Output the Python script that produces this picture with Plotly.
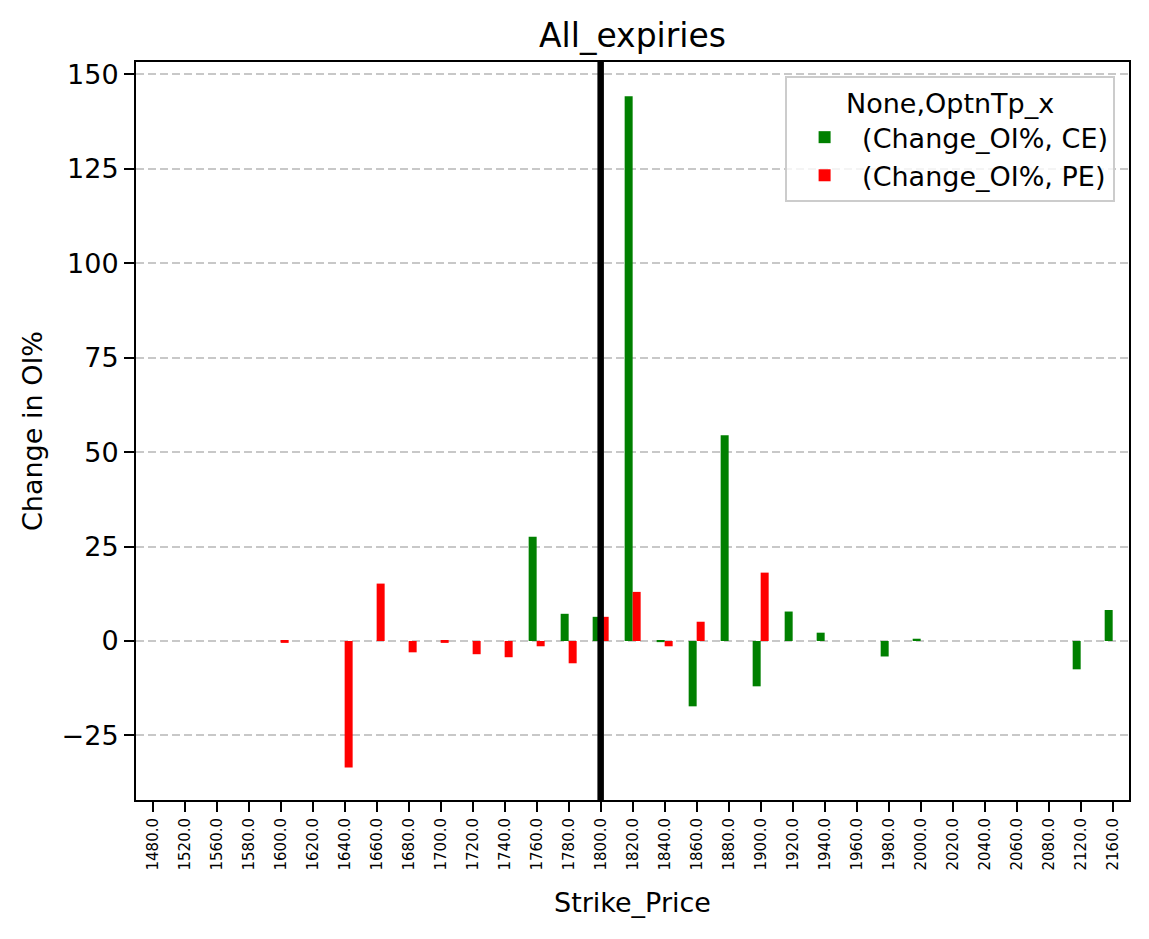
import plotly.graph_objects as go

strikes = ["1480.0", "1520.0", "1560.0", "1580.0", "1600.0", "1620.0", "1640.0", "1660.0",
           "1680.0", "1700.0", "1720.0", "1740.0", "1760.0", "1780.0", "1800.0", "1820.0",
           "1840.0", "1860.0", "1880.0", "1900.0", "1920.0", "1940.0", "1960.0", "1980.0",
           "2000.0", "2020.0", "2040.0", "2060.0", "2080.0", "2120.0", "2160.0"]

ce_change = [None, None, None, None, None, None, None, None,
             None, None, None, None, 27.6, 7.2, 6.4, 144.2,
             -0.3, -17.3, 54.5, -12.0, 7.8, 2.2, None, -4.1,
             0.6, None, None, None, None, -7.5, 8.2]

pe_change = [None, None, None, None, -0.5, None, -33.5, 15.2,
             -3.0, -0.5, -3.5, -4.3, -1.4, -5.9, 6.4, 13.0,
             -1.4, 5.1, None, 18.1, None, None, None, None,
             None, None, None, None, None, None, None]

atm_strike = "1800.0"
y_ticks = [-25, 0, 25, 50, 75, 100, 125, 150]

FONT = "DejaVu Sans"

fig = go.Figure()
fig.add_trace(go.Bar(x=strikes, y=ce_change, name="(Change_OI%, CE)",
                     marker=dict(color="#008000", line=dict(width=0))))
fig.add_trace(go.Bar(x=strikes, y=pe_change, name="(Change_OI%, PE)",
                     marker=dict(color="#ff0000", line=dict(width=0))))

atm_pos = strikes.index(atm_strike)
fig.add_shape(type="line", xref="x", yref="paper", x0=atm_pos, x1=atm_pos,
              y0=0, y1=1, line=dict(color="black", width=6.5), layer="above")

fig.update_layout(
    width=1149, height=939,
    margin=dict(l=136, r=20, t=62, b=139),
    paper_bgcolor="white", plot_bgcolor="white",
    barmode="group", bargap=0.5, bargroupgap=0,
    font=dict(family=FONT, color="black", size=27),
    title=dict(text="All_expiries", x=0.5, xref="paper", xanchor="center",
               y=1 - 35 / 939, yanchor="middle", font=dict(size=33, family=FONT)),
    showlegend=True,
    legend=dict(
        title=dict(text="None,OptnTp_x", side="top center", font=dict(size=27)),
        x=0.986, y=0.981, xanchor="right", yanchor="top",
        bgcolor="rgba(255,255,255,0.8)", bordercolor="#cccccc", borderwidth=2,
        font=dict(size=27), traceorder="normal", itemwidth=65,
    ),
)

fig.update_xaxes(
    type="category", range=[-0.52, 30.51],
    tickangle=-90, tickfont=dict(size=15),
    ticks="outside", ticklen=10, tickwidth=2, tickcolor="black",
    showline=True, linecolor="black", linewidth=2, mirror=True,
    showgrid=False,
    title=dict(text="Strike_Price", font=dict(size=27), standoff=24),
)
fig.update_yaxes(
    range=[-42.1, 153.3], tickvals=y_ticks,
    ticks="outside", ticklen=10, tickwidth=2, tickcolor="black",
    showline=True, linecolor="black", linewidth=2, mirror=True,
    showgrid=True, gridcolor="#c8c8c8", gridwidth=2, griddash="8px,4px",
    zeroline=False,
    title=dict(text="Change in OI%", font=dict(size=27), standoff=11),
)

fig.write_html("out.html")
